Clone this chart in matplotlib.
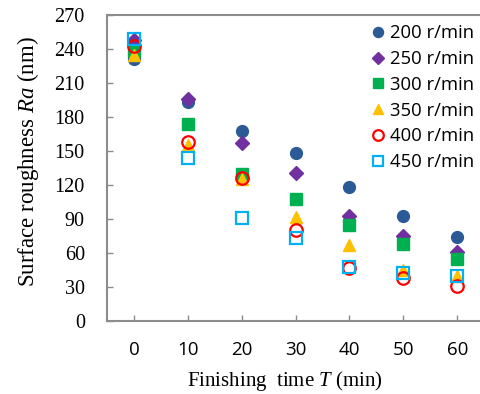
import matplotlib.pyplot as plt

plt.rcParams['mathtext.fontset'] = 'custom'
plt.rcParams['mathtext.rm'] = 'Liberation Serif'
plt.rcParams['mathtext.it'] = 'Liberation Serif:italic'

times = [0, 10, 20, 30, 40, 50, 60]
labels = ["200 r/min", "250 r/min", "300 r/min", "350 r/min", "400 r/min", "450 r/min"]
ra_200 = [231, 193, 168, 148, 118, 93, 74]
ra_250 = [248, 196, 157, 131, 93, 75, 61]
ra_300 = [238, 174, 130, 108, 85, 68, 55]
ra_350 = [235, 155, 125, 92, 67, 45, 40]
ra_400 = [243, 158, 126, 80, 47, 38, 31]
ra_450 = [249, 144, 91, 73, 48, 42, 40]

series = [ra_200, ra_250, ra_300, ra_350, ra_400, ra_450]
styles = [
    dict(marker='o', color='#2C5A96', ms=8.5),
    dict(marker='D', color='#7030A0', ms=7.5),
    dict(marker='s', color='#00B050', ms=8),
    dict(marker='^', color='#FFC000', ms=8.5),
    dict(marker='o', mfc='none', mec='#FF0000', mew=1.6, ms=9),
    dict(marker='s', mfc='none', mec='#00B0F0', mew=1.6, ms=8),
]

fig = plt.figure(figsize=(4.81, 3.94), dpi=100)
ax = fig.add_axes([0.2225, 0.185, 0.784, 0.777])

for vals, lab, st in zip(series, labels, styles):
    ax.plot(times, vals, linestyle='none', label=lab, **st)

ax.set_xlim(-5, 65)
ax.set_ylim(0, 270)
ax.set_xticks(times)
ax.set_yticks(range(0, 271, 30))

for s in ax.spines.values():
    s.set_color('#8c8c8c')
    s.set_linewidth(1.5)
ax.tick_params(direction='in', length=4, color='#8c8c8c', width=1)
for t in ax.get_yticklabels():
    t.set_fontfamily('Liberation Serif')
    t.set_fontsize(14.5)
for t in ax.get_xticklabels():
    t.set_fontfamily('Open Sans')
    t.set_fontsize(13.5)
ax.tick_params(axis='x', pad=14)
ax.tick_params(axis='y', pad=16)

ax.set_xlabel("Finishing  time $T$ (min)", fontfamily='Liberation Serif', fontsize=15)
ax.xaxis.set_label_coords(0.472, -0.155)
ax.set_ylabel("Surface roughness $Ra$ (nm)", fontfamily='Liberation Serif', fontsize=16.5)
ax.yaxis.set_label_coords(-0.175, 0.52)

ax.legend(loc='upper left', frameon=False, prop={'family': 'Open Sans', 'size': 13.3},
          handlelength=0.75, handletextpad=0.25, labelspacing=0.42, markerscale=0.85,
          borderaxespad=0, bbox_to_anchor=(0.757, 0.957), bbox_transform=fig.transFigure)

fig.savefig('out.png', dpi=100)
